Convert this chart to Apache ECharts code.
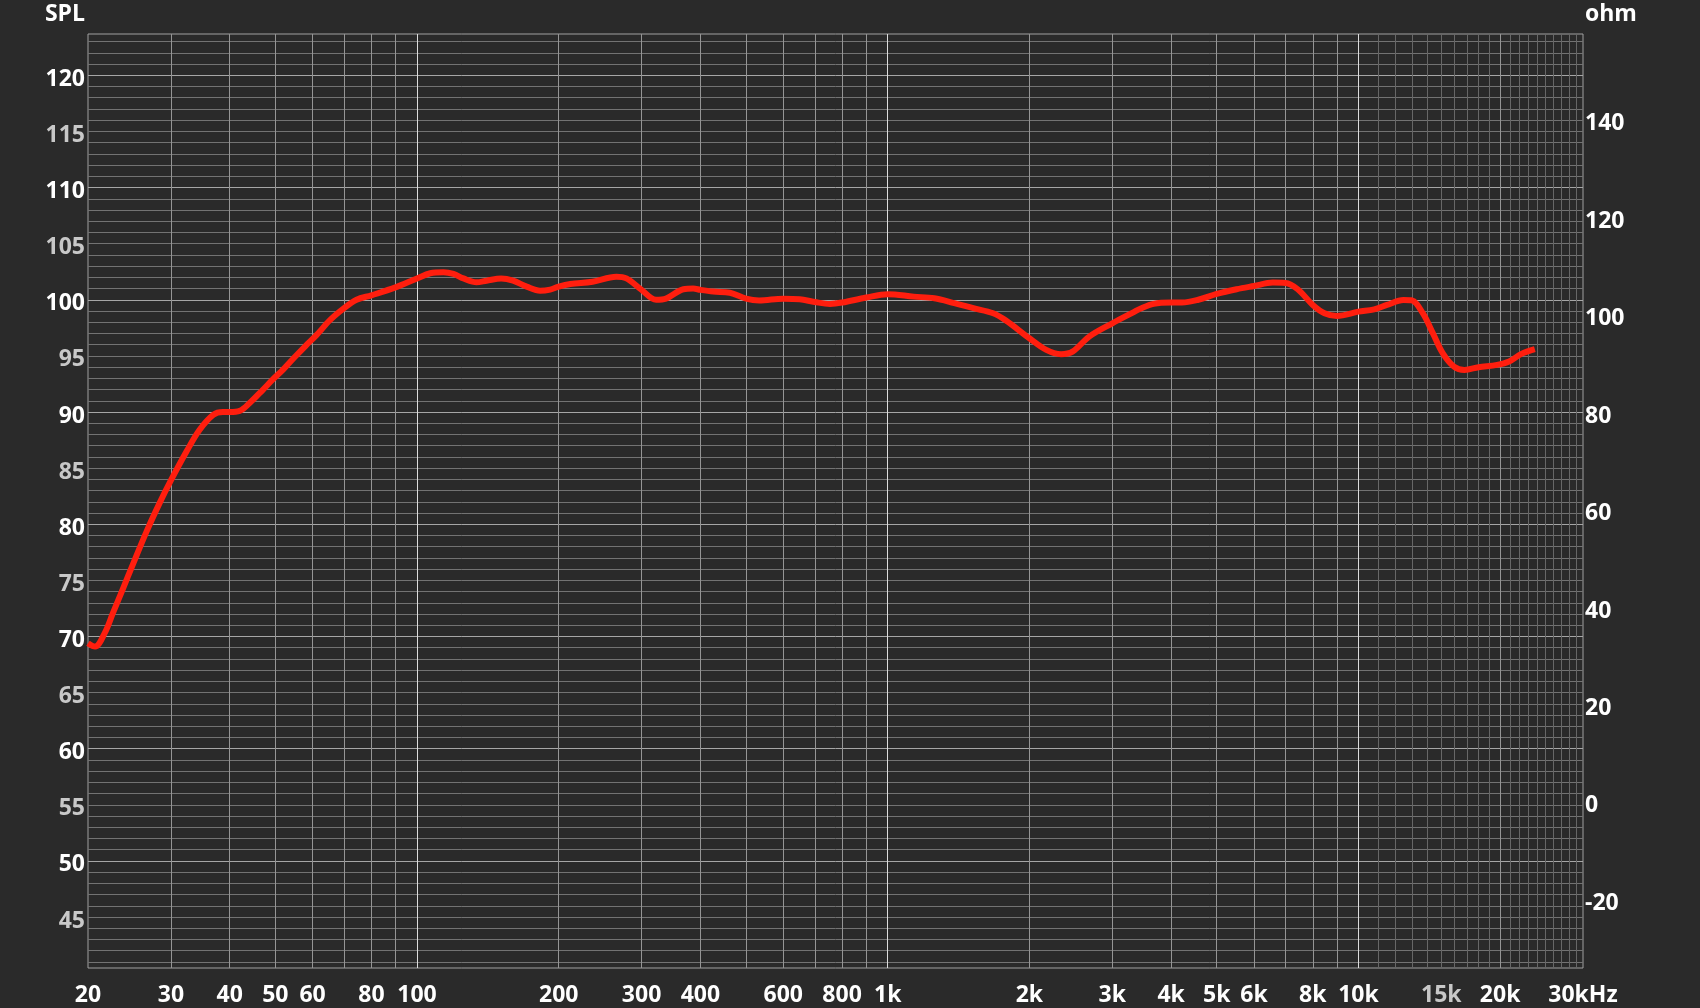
<!DOCTYPE html>
<html><head><meta charset="utf-8">
<script src="https://cdn.jsdelivr.net/npm/echarts@6/dist/echarts.min.js"></script>
<style>html,body{margin:0;padding:0;background:#2a2a2a;}#c{width:1700px;height:1008px;}</style>
</head><body><div id="c"></div>
<script>
// Frequency response (Hz, dB SPL)
const freqs = [20, 20.7, 21.7, 22.6, 23.7, 24.9, 26.6, 28.4, 30, 32.4, 34.5, 36.9, 38.7, 40, 42, 44.1, 47.1, 49.4,
  52, 55, 58, 61, 65.4, 70, 74.4, 80, 90, 100, 106.7, 113.8, 119.5, 125.5, 133.8, 140.5, 151, 160, 171, 182.6, 191.8,
  200, 211.7, 236, 265, 278.5, 300, 322, 338, 368, 386, 400, 426, 462, 500, 533, 600, 650, 700, 754, 800, 900,
  1000, 1136, 1256, 1385, 1520, 1675, 1783, 2000, 2172, 2335, 2470, 2680, 3000, 3332, 3440, 3670, 4000, 4220, 4570,
  5000, 5510, 6000, 6580, 7000, 7430, 8000, 8470, 9000, 10000, 10800, 11500, 12460, 12970, 13700, 14400, 15100,
  15960, 16800, 18000, 19700, 20900, 22200, 23700];
const spl = [69.4, 69.1, 70.3, 72.1, 74.2, 76.4, 79.3, 81.9, 83.9, 86.5, 88.4, 89.75, 90.0, 90.0, 90.1, 90.8, 92.0, 92.9,
  93.8, 94.9, 95.9, 96.8, 98.2, 99.25, 100.0, 100.4, 101.1, 101.9, 102.36, 102.45, 102.3, 101.9, 101.56, 101.7, 101.9, 101.7, 101.17, 100.8, 100.9,
  101.17, 101.4, 101.6, 102.05, 101.9, 100.88, 100.0, 100.1, 100.94, 101.0, 100.88, 100.73, 100.63, 100.1, 99.93, 100.1, 100.05, 99.8, 99.63, 99.75, 100.2,
  100.5, 100.28, 100.13, 99.7, 99.25, 98.8, 98.15, 96.57, 95.53, 95.15, 95.38, 96.72, 97.9, 98.9, 99.2, 99.63, 99.75, 99.75, 100.0,
  100.52, 100.94, 101.23, 101.53, 101.5, 100.94, 99.54, 98.8, 98.56, 98.94, 99.15, 99.54, 99.98, 99.95, 98.8, 97.0, 95.24,
  94.04, 93.75, 93.99, 94.2, 94.5, 95.18, 95.6];

// Tick labels
const xLabelValues = [20, 30, 40, 50, 60, 80, 100, 200, 300, 400, 600, 800, 1000, 2000, 3000, 4000, 5000, 6000, 8000, 10000, 15000, 20000, 30000];
const xLabelTexts = ['20', '30', '40', '50', '60', '80', '100', '200', '300', '400', '600', '800', '1k', '2k', '3k', '4k', '5k', '6k', '8k', '10k', '15k', '20k', '30kHz'];
const xGridRegular = [30, 40, 50, 60, 70, 80, 90, 200, 300, 400, 500, 600, 700, 800, 900, 2000, 3000, 4000, 5000, 6000, 7000, 8000, 9000, 20000];
const xGridFine = [11000, 12000, 13000, 14000, 15000, 16000, 17000, 18000, 19000, 21000, 22000, 23000, 24000, 25000, 26000, 27000, 28000, 29000];
const xGridDecade = [100, 1000, 10000];
const splLabels = [45, 50, 55, 60, 65, 70, 75, 80, 85, 90, 95, 100, 105, 110, 115, 120];
const splGridFine = [41, 42, 43, 44, 45, 46, 47, 48, 49, 51, 52, 53, 54, 55, 56, 57, 58, 59, 61, 62, 63, 64, 65, 66, 67, 68, 69,
  71, 72, 73, 74, 75, 76, 77, 78, 79, 81, 82, 83, 84, 85, 86, 87, 88, 89, 91, 92, 93, 94, 95, 96, 97, 98, 99,
  101, 102, 103, 104, 105, 106, 107, 108, 109, 111, 112, 113, 114, 115, 116, 117, 118, 119, 121, 122, 123];
const splGridMajor = [50, 60, 70, 80, 90, 100, 110, 120];
const ohmLabels = [-20, 0, 20, 40, 60, 80, 100, 120, 140];

const FONT = '"Open Sans", "DejaVu Sans", sans-serif';
const FS = 23;
const chart = echarts.init(document.getElementById('c'), null, {renderer: 'canvas'});

function xText(v) {
  v = Number(v);
  let best = 0, bd = Infinity;
  xLabelValues.forEach((x, i) => { const d = Math.abs(Math.log(x / v)); if (d < bd) { bd = d; best = i; } });
  return xLabelTexts[best];
}
function hiddenX(vals, color) {
  return {type: 'log', logBase: 10, min: 20, max: 30000, position: 'bottom',
    axisLine: {show: false}, axisLabel: {show: false},
    axisTick: {show: false, customValues: vals},
    splitLine: {show: true, lineStyle: {color: color, width: 1}}};
}
function hiddenY(vals, color) {
  return {type: 'value', min: 40.46, max: 123.68, position: 'left',
    axisLine: {show: false}, axisLabel: {show: false},
    axisTick: {show: false, customValues: vals},
    splitLine: {show: true, lineStyle: {color: color, width: 1}}};
}

chart.setOption({
  animation: false,
  backgroundColor: '#2a2a2a',
  grid: {left: 88, right: 117, top: 34, bottom: 40, show: true, borderColor: '#a0a0a0', borderWidth: 1,
    backgroundColor: 'transparent', containLabel: false, outerBoundsMode: 'none'},
  xAxis: [
    {type: 'log', logBase: 10, min: 20, max: 30000, position: 'bottom',
      axisLine: {show: false}, axisTick: {show: false, customValues: xGridRegular},
      axisLabel: {customValues: xLabelValues, formatter: xText, margin: 16,
        fontFamily: FONT, fontWeight: 'bold', fontSize: FS,
        color: (v) => (Math.abs(Number(v) - 15000) < 1 ? '#c8c8c8' : '#ffffff')},
      splitLine: {show: true, lineStyle: {color: '#959595', width: 1}}},
    hiddenX(xGridFine, '#676767'),
    hiddenX(xGridDecade, '#dcdcdc')
  ],
  yAxis: [
    {type: 'value', min: 40.46, max: 123.68, position: 'left', name: 'SPL', nameLocation: 'end', nameGap: 20,
      nameTextStyle: {color: '#ffffff', fontFamily: FONT, fontWeight: 'bold', fontSize: FS, align: 'right', verticalAlign: 'middle', padding: [0, 3, 0, 0]},
      axisLine: {show: false}, axisTick: {show: false, customValues: splGridFine},
      axisLabel: {customValues: splLabels, margin: 3, verticalAlign: 'top', lineHeight: 8, fontFamily: FONT, fontWeight: 'bold', fontSize: FS,
        color: (v) => (Math.round(Number(v)) % 10 === 0 ? '#ffffff' : '#c8c8c8')},
      splitLine: {show: true, lineStyle: {color: '#737373', width: 1}}},
    {type: 'value', min: -34.3, max: 157.4, position: 'right', name: 'ohm', nameLocation: 'end', nameGap: 20,
      nameTextStyle: {color: '#ffffff', fontFamily: FONT, fontWeight: 'bold', fontSize: FS, align: 'left', verticalAlign: 'middle', padding: [0, 0, 0, 2]},
      axisLine: {show: false}, axisTick: {show: false},
      axisLabel: {customValues: ohmLabels, margin: 2, verticalAlign: 'top', lineHeight: 10, fontFamily: FONT, fontWeight: 'bold', fontSize: FS, color: '#ffffff'},
      splitLine: {show: false}},
    hiddenY(splGridMajor, '#a6a6a6')
  ],
  series: [{
    type: 'line', xAxisIndex: 0, yAxisIndex: 0,
    data: freqs.map((f, i) => [f, spl[i]]),
    showSymbol: false, smooth: 0.35, z: 5,
    lineStyle: {color: '#ff1e0e', width: 6}
  }]
});
</script>
</body></html>
